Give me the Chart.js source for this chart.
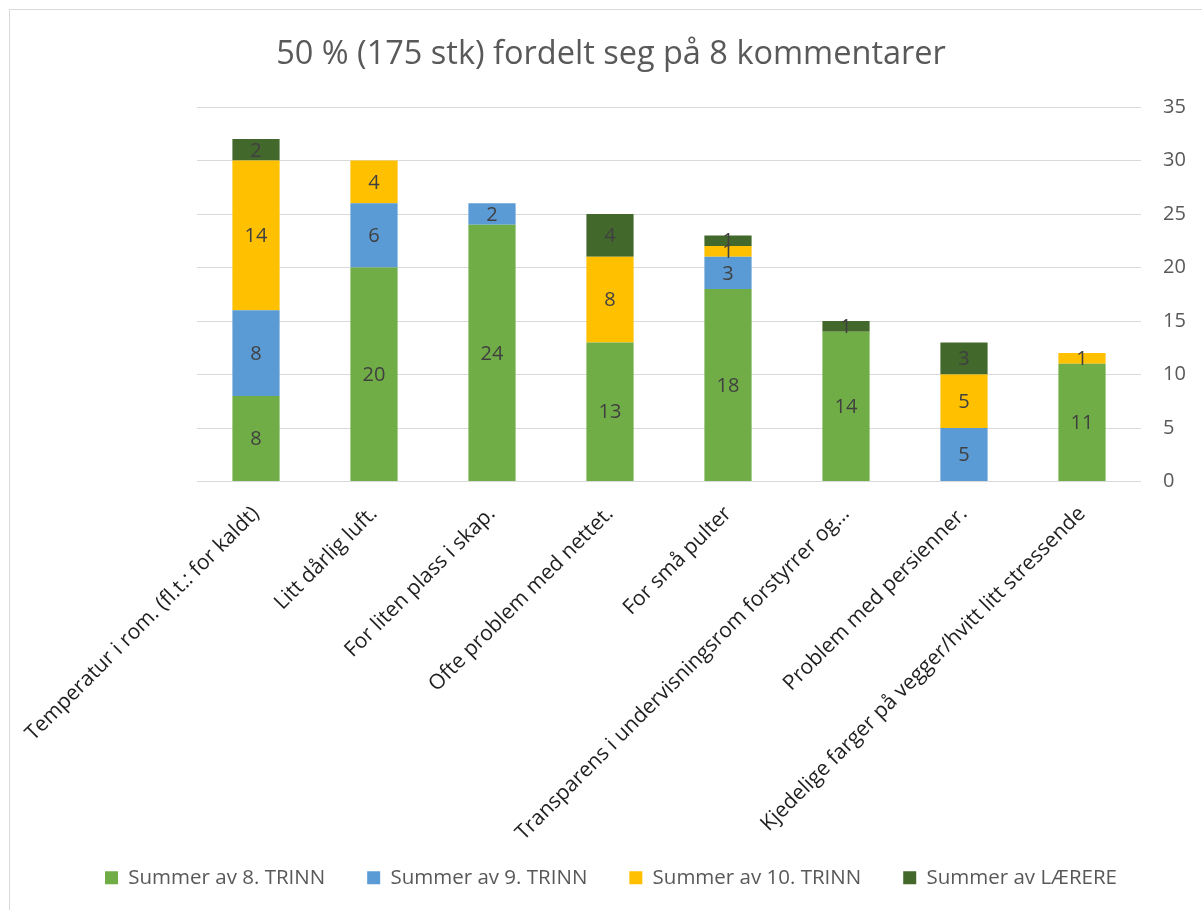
<!DOCTYPE html>
<html>
<head>
<meta charset="utf-8">
<script src="https://cdn.jsdelivr.net/npm/chart.js@4/dist/chart.umd.min.js"></script>
<style>
  html, body { margin: 0; padding: 0; background: #fff; overflow: hidden; }
  #frame { position: absolute; left: 9px; top: 9px; width: 1400px; height: 1100px; border: 1px solid #d9d9d9; }
  #wrap { position: absolute; left: 0; top: 0; width: 1202px; height: 910px; }
</style>
</head>
<body>
<div id="frame"></div>
<div id="wrap"><canvas id="chart" width="1202" height="910"></canvas></div>
<script>
const categories = [
  "Temperatur i rom. (fl.t.: for kaldt)",
  "Litt dårlig luft.",
  "For liten plass i skap.",
  "Ofte problem med nettet.",
  "For små pulter",
  "Transparens i undervisningsrom forstyrrer og…",
  "Problem med persienner.",
  "Kjedelige farger på vegger/hvitt litt stressende"
];
const trinn8 = [8, 20, 24, 13, 18, 14, 0, 11];
const trinn9 = [8, 6, 2, 0, 3, 0, 5, 0];
const trinn10 = [14, 4, 0, 8, 1, 0, 5, 1];
const laerere = [2, 0, 0, 4, 1, 1, 3, 0];
const yMin = 0, yMax = 35, yStep = 5;

const FONT = "'Open Sans', Lato, sans-serif";

// value labels in the middle of each segment
const segmentLabels = {
  id: "segmentLabels",
  afterDatasetsDraw(chart) {
    const ctx = chart.ctx;
    ctx.save();
    ctx.font = "20px " + FONT;
    ctx.fillStyle = "#404040";
    ctx.textAlign = "center";
    ctx.textBaseline = "middle";
    chart.data.datasets.forEach((ds, i) => {
      const meta = chart.getDatasetMeta(i);
      meta.data.forEach((bar, j) => {
        const v = ds.data[j];
        if (!v) return;
        ctx.fillText(String(v), bar.x, (bar.y + bar.base) / 2 + 1);
      });
    });
    ctx.restore();
  }
};

new Chart(document.getElementById("chart"), {
  type: "bar",
  data: {
    labels: categories,
    datasets: [
      { label: "Summer av 8. TRINN", data: trinn8, backgroundColor: "#70ad47" },
      { label: "Summer av 9. TRINN", data: trinn9, backgroundColor: "#5b9bd5" },
      { label: "Summer av 10. TRINN", data: trinn10, backgroundColor: "#ffc000" },
      { label: "Summer av LÆRERE", data: laerere, backgroundColor: "#43682b" },
    ],
  },
  options: {
    responsive: false,
    animation: false,
    categoryPercentage: 1,
    barPercentage: 0.4,
    layout: { padding: { left: 20, right: 0, top: 0, bottom: 12 } },
    plugins: {
      title: {
        display: true,
        text: "50 % (175 stk) fordelt seg på 8 kommentarer",
        color: "#595959",
        font: { family: FONT, size: 32.5, weight: "normal" },
        padding: { top: 35, bottom: 33 },
      },
      legend: {
        position: "bottom",
        labels: { boxWidth: 13, boxHeight: 13, padding: 42, color: "#595959", font: { family: FONT, size: 20.5 } },
      },
      tooltip: { enabled: false },
    },
    scales: {
      x: {
        stacked: true,
        grid: { display: false, drawTicks: false },
        border: { display: false },
        ticks: { autoSkip: false, minRotation: 45, maxRotation: 45, color: "#1f1f1f", padding: 20, font: { family: FONT, size: 21 } },
        afterFit(s) {
          s.height = 344; s.paddingLeft = 197; s.paddingRight = 0;
          // the long labels reach below the axis box, don't cut them off
          s._computeLabelArea = () => null;
        },
      },
      y: {
        stacked: true,
        position: "right",
        min: yMin, max: yMax,
        ticks: { stepSize: yStep, color: "#595959", padding: 22, font: { family: FONT, size: 20 } },
        grid: { color: "#d9d9d9", drawTicks: false },
        border: { display: false },
        afterFit(s) { s.width = 61; },
      },
    },
  },
  plugins: [segmentLabels],
});
</script>
</body>
</html>
